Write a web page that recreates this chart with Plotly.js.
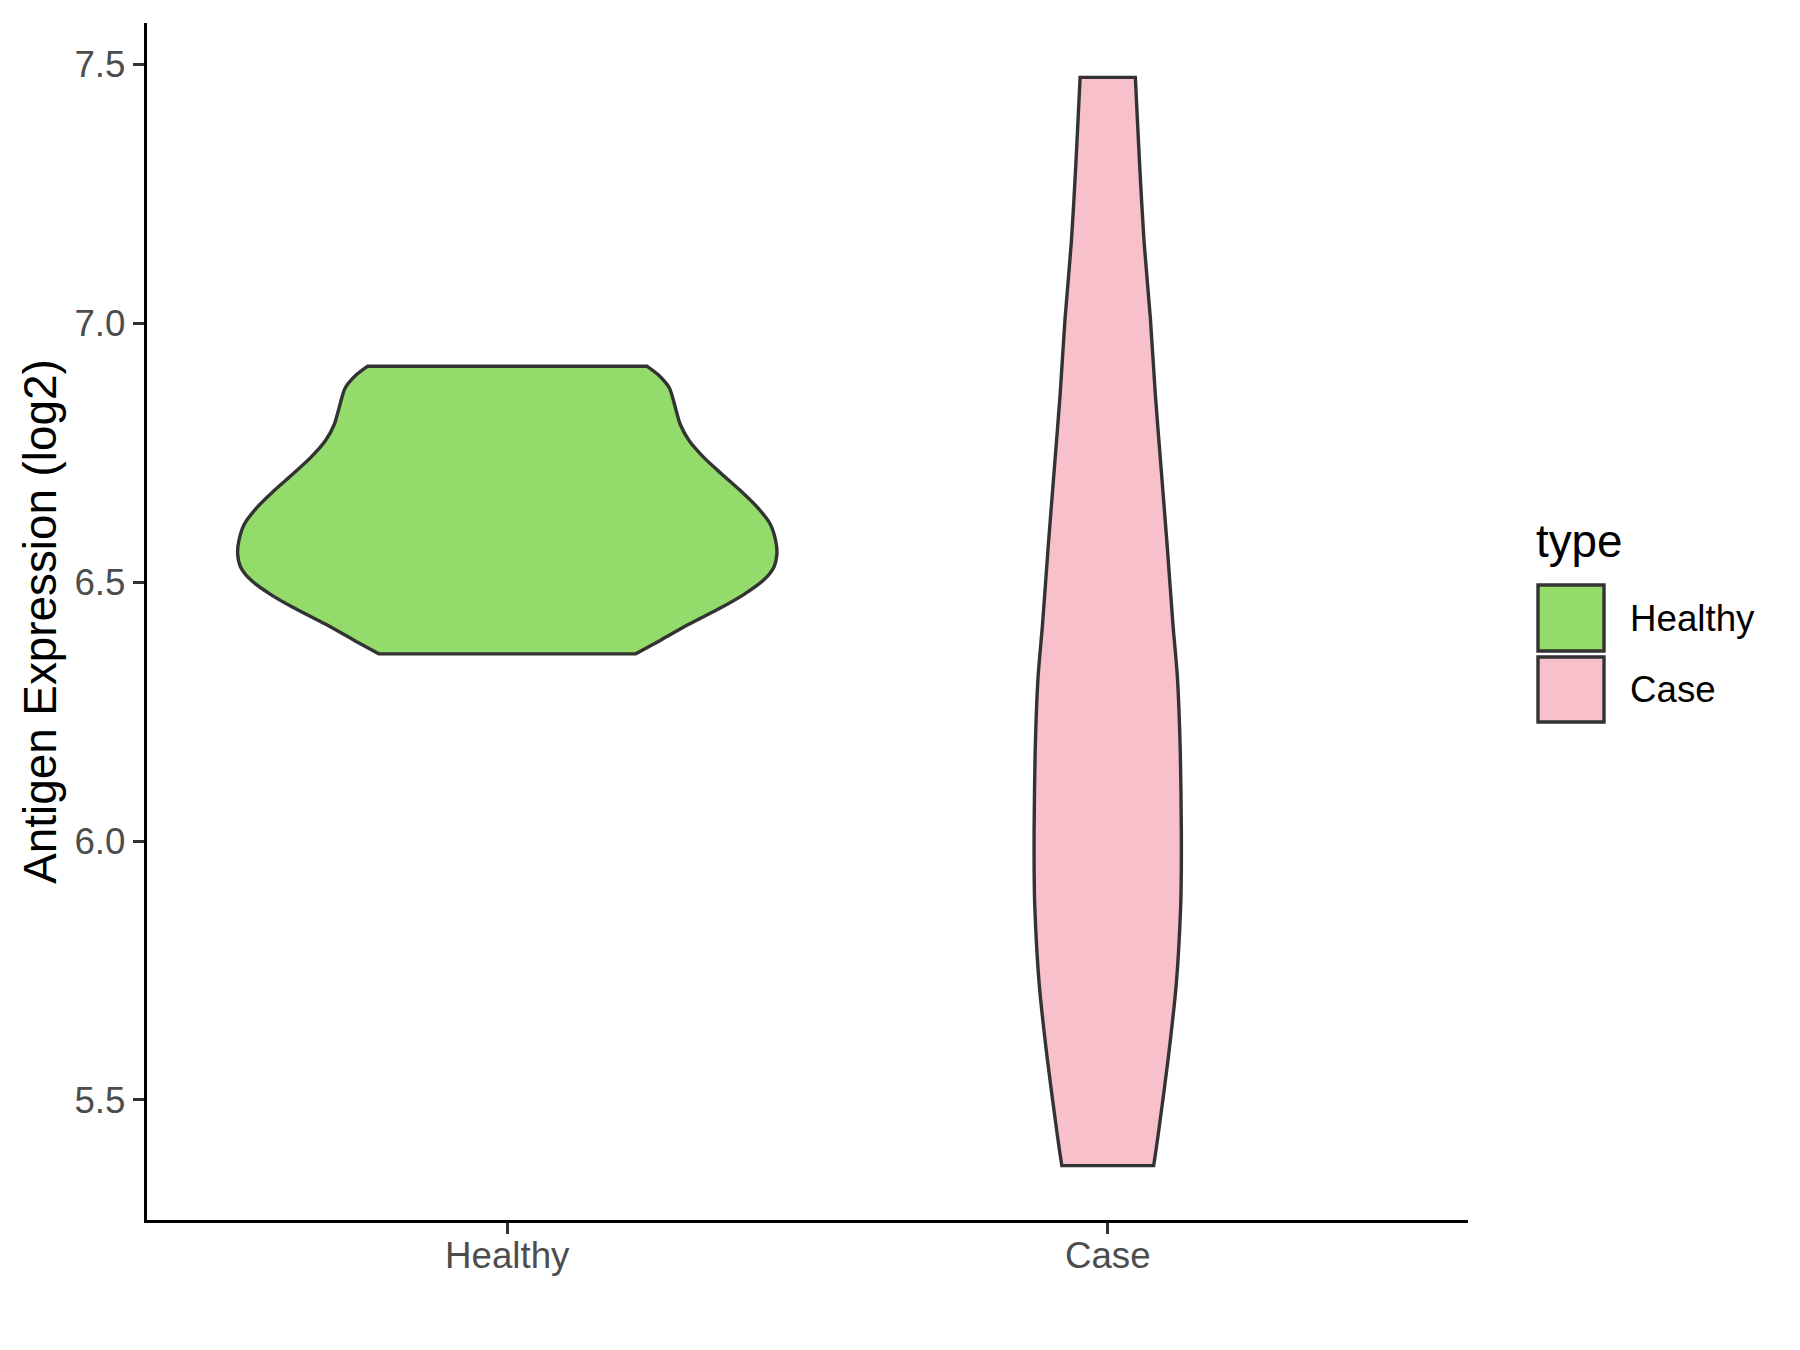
<!DOCTYPE html>
<html>
<head>
<meta charset="utf-8">
<script src="https://cdn.plot.ly/plotly-3.0.1.min.js"></script>
<style>html,body{margin:0;padding:0;background:#fff;}#chart{width:1800px;height:1350px;}</style>
</head>
<body>
<div id="chart"></div>
<script>
// Categories and legend
const categories = ["Healthy", "Case"];
const legendTitle = "type";
const yTickVals = [5.5, 6.0, 6.5, 7.0, 7.5];
const yTitle = "Antigen Expression (log2)";

// Violin density profiles (value, half-width in category units)
const healthyY  = [6.917, 6.901, 6.875, 6.837, 6.805, 6.773, 6.740, 6.708, 6.676, 6.644, 6.612, 6.580, 6.554, 6.529, 6.503, 6.477, 6.452, 6.419, 6.387, 6.3615];
const healthyHW = [0.233, 0.251, 0.270, 0.280, 0.288, 0.303, 0.328, 0.358, 0.389, 0.417, 0.438, 0.447, 0.449, 0.444, 0.426, 0.395, 0.358, 0.303, 0.254, 0.214];
const caseY  = [7.475, 7.305, 7.158, 7.010, 6.862, 6.714, 6.566, 6.417, 6.317, 6.170, 6.022, 5.948, 5.874, 5.726, 5.577, 5.430, 5.373];
const caseHW = [0.046, 0.0532, 0.0605, 0.071, 0.0793, 0.0893, 0.0993, 0.1087, 0.116, 0.1209, 0.1226, 0.1226, 0.1215, 0.1143, 0.1004, 0.0837, 0.0765];

const fillColors = ["#93DB6A", "#F7C0CB"];
const outline = "#333333";
const FONT = "Liberation Sans, Arial, Helvetica, sans-serif";

function violinTrace(pos, ys, hws, color, name) {
  const xs = [], yy = [];
  const n = ys.length;
  // right side (top -> bottom), corners doubled to keep them sharp under spline
  xs.push(pos + hws[0]); yy.push(ys[0]);
  for (let i = 0; i < n; i++) { xs.push(pos + hws[i]); yy.push(ys[i]); }
  xs.push(pos + hws[n - 1]); yy.push(ys[n - 1]);
  // left side (bottom -> top)
  xs.push(pos - hws[n - 1]); yy.push(ys[n - 1]);
  for (let i = n - 1; i >= 0; i--) { xs.push(pos - hws[i]); yy.push(ys[i]); }
  xs.push(pos - hws[0]); yy.push(ys[0]);
  xs.push(pos + hws[0]); yy.push(ys[0]);
  xs.push(pos + hws[0]); yy.push(ys[0]);
  return {
    type: "scatter", mode: "lines", x: xs, y: yy, name: name,
    fill: "toself", fillcolor: color,
    line: {color: outline, width: 3.4, shape: "spline", smoothing: 0.7},
    showlegend: false, hoverinfo: "skip"
  };
}

const traces = [
  violinTrace(1, healthyY, healthyHW, fillColors[0], categories[0]),
  violinTrace(2, caseY, caseHW, fillColors[1], categories[1])
];

// Layout geometry
const M = {l: 147, r: 332, t: 23, b: 130};
const W = 1800 - M.l - M.r, H = 1350 - M.t - M.b;
const px = x => (x - M.l) / W;
const py = y => (1350 - M.b - y) / H;

const shapes = [], annotations = [];
annotations.push({xref: "paper", yref: "paper", x: px(1534), y: py(541), text: legendTitle,
  showarrow: false, xanchor: "left", yanchor: "middle", font: {family: FONT, size: 45.8, color: "#000"}});
const keyY = [[585, 651], [657, 722]];
categories.forEach((c, i) => {
  shapes.push({type: "rect", xref: "paper", yref: "paper",
    x0: px(1538), x1: px(1604), y0: py(keyY[i][1]), y1: py(keyY[i][0]),
    fillcolor: fillColors[i], line: {color: outline, width: 3.4}});
  annotations.push({xref: "paper", yref: "paper", x: px(1628), y: py((keyY[i][0] + keyY[i][1]) / 2),
    text: c, showarrow: false, xanchor: "left", yanchor: "middle",
    font: {family: FONT, size: 36.7, color: "#000"}});
});

const layout = {
  width: 1800, height: 1350,
  margin: M,
  paper_bgcolor: "#fff", plot_bgcolor: "#fff",
  showlegend: false,
  font: {family: FONT},
  xaxis: {
    range: [0.4, 2.6], tickvals: [1, 2], ticktext: categories,
    showgrid: false, zeroline: false, showline: true, linecolor: "#000", linewidth: 3.2,
    ticks: "outside", ticklen: 11, tickwidth: 3, tickcolor: "#333",
    ticklabelstandoff: -10,
    tickfont: {family: FONT, size: 36.7, color: "#4D4D4D"}
  },
  yaxis: {
    range: [5.268, 7.58], tickvals: yTickVals, tickformat: ".1f",
    showgrid: false, zeroline: false, showline: true, linecolor: "#000", linewidth: 3.2,
    ticks: "outside", ticklen: 11, tickwidth: 3, tickcolor: "#333",
    tickfont: {family: FONT, size: 36.7, color: "#4D4D4D"},
    title: {text: yTitle, font: {family: FONT, size: 45.8, color: "#000"}, standoff: 4}
  },
  shapes: shapes,
  annotations: annotations
};

Plotly.newPlot("chart", traces, layout, {displayModeBar: false, staticPlot: true});
</script>
</body>
</html>
